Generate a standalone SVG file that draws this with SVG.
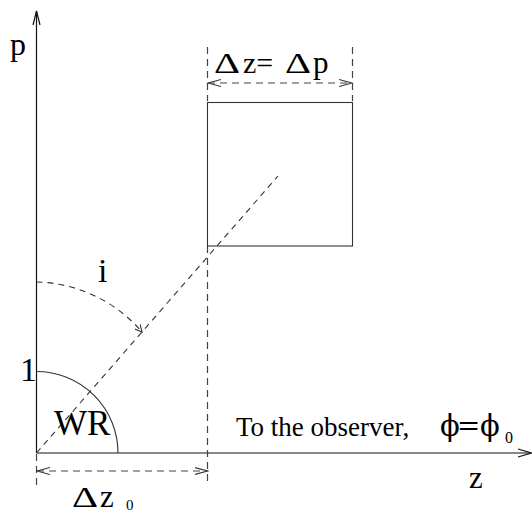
<svg xmlns="http://www.w3.org/2000/svg" width="532" height="513" viewBox="0 0 532 513">
<defs>
<style>
.ax{fill:none;stroke:#111;stroke-width:1.2}
.sl{fill:none;stroke:#333;stroke-width:1.1}
.ds{fill:none;stroke:#333;stroke-width:1.1;stroke-dasharray:6 5}
.dd{fill:none;stroke:#444;stroke-width:1.2;stroke-dasharray:7 5}
.t{font-family:"Liberation Serif","Times New Roman",serif;fill:#000}
.ph{font-family:"DejaVu Serif","Liberation Serif",serif;fill:#000}
</style>
<marker id="ah" viewBox="0 0 14 10" refX="13" refY="5" markerWidth="14" markerHeight="10" markerUnits="userSpaceOnUse" orient="auto-start-reverse">
<path d="M0,1.5 L13,5 L0,8.5" fill="none" stroke="#333" stroke-width="1.1"/>
</marker>
<marker id="sm" viewBox="0 0 8 8" refX="7" refY="4" markerWidth="8" markerHeight="8" markerUnits="userSpaceOnUse" orient="auto">
<path d="M0,0.5 L7,4 L0,7.5" fill="none" stroke="#333" stroke-width="1.1"/>
</marker>
</defs>
<rect width="532" height="513" fill="#fff"/>
<g id="connectors">
<line class="ax" x1="36.5" y1="453" x2="36.5" y2="11"/>
<path class="ax" d="M33,25 L36.5,11 L40,25"/>
<line class="ax" x1="36.5" y1="453" x2="531" y2="453"/>
<path class="ax" d="M518,449 L531.5,453 L518,457"/>
<line class="ds" x1="36.5" y1="453" x2="278" y2="176"/>
<path class="sl" d="M36.5,371.5 A81.5,81.5 0 0 1 118,453"/>
<path class="ds" d="M36.5,282 A143,143 0 0 1 142,332" marker-end="url(#sm)"/>
<line class="dd" x1="207.5" y1="47" x2="207.5" y2="101"/>
<line class="dd" x1="352.5" y1="47" x2="352.5" y2="101"/>
<line class="dd" x1="207.5" y1="246" x2="207.5" y2="481"/>
<line class="dd" x1="36.5" y1="454" x2="36.5" y2="489"/>
<line class="dd" x1="208" y1="83" x2="352" y2="83" marker-start="url(#ah)" marker-end="url(#ah)"/>
<line class="dd" x1="37" y1="471" x2="207.5" y2="471" marker-start="url(#ah)" marker-end="url(#ah)"/>
</g>
<g id="box">
<rect class="sl" x="207.5" y="102.5" width="145" height="143.5"/>
</g>
<g id="labels">
<text class="t" x="10" y="55" font-size="32">p</text>
<text class="t" font-size="30" transform="translate(214,73) scale(1.35,1)">Δ</text>
<text class="t" x="243" y="73" font-size="30">z=</text>
<text class="t" font-size="30" transform="translate(285,73) scale(1.35,1)">Δ</text>
<text class="t" x="313" y="73" font-size="31">p</text>
<text class="t" x="98" y="282" font-size="34">i</text>
<text class="t" x="20" y="381" font-size="34">1</text>
<text class="t" x="54" y="435" font-size="35">WR</text>
<text class="t" x="236" y="436" font-size="27">To the observer,</text>
<text class="ph" x="440" y="436" font-size="29">ϕ</text>
<text class="t" font-size="29" font-weight="bold" transform="translate(458,436) scale(1.3,1)">=</text>
<text class="ph" x="480" y="436" font-size="29">ϕ</text>
<text class="t" x="505" y="443" font-size="16">0</text>
<text class="t" x="469" y="488" font-size="31">z</text>
<text class="t" font-size="30" transform="translate(72,507) scale(1.35,1)">Δ</text>
<text class="t" x="100" y="507" font-size="31">z</text>
<text class="t" x="126" y="510" font-size="15">0</text>
</g>
</svg>
